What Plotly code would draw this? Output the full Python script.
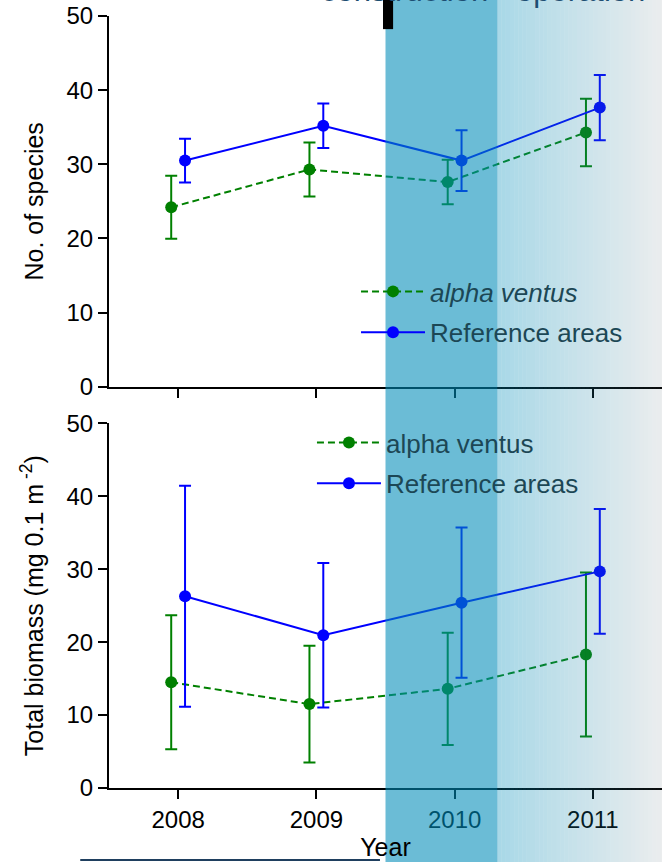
import plotly.graph_objects as go
from plotly.subplots import make_subplots

# ---------------- data ----------------
years = [2008, 2009, 2010, 2011]
year_labels = ["2008", "2009", "2010", "2011"]
y_ticks = [0, 10, 20, 30, 40, 50]

# top panel: number of species (mean and error)
species_av = [24.2, 29.3, 27.6, 34.3]
species_av_err = [4.25, 3.65, 3.0, 4.55]
species_ref = [30.5, 35.2, 30.5, 37.65]
species_ref_err = [2.95, 3.0, 4.1, 4.4]

# bottom panel: total biomass (mg 0.1 m-2)
biomass_av = [14.5, 11.5, 13.6, 18.3]
biomass_av_err = [9.2, 8.0, 7.7, 11.25]
biomass_ref = [26.3, 20.95, 25.4, 29.7]
biomass_ref_err = [15.15, 9.9, 10.3, 8.55]

# periods (x in years)
construction_start = 2009.5
operation_start = 2010.31
period_end = 2011.52
x_range = [2007.5, 2011.5]
dodge = 0.05

GREEN = "#008000"
BLUE = "#0000ff"
FONT = "Arial, Liberation Sans, sans-serif"

x_av = [y - dodge for y in years]
x_ref = [y + dodge for y in years]

fig = make_subplots(rows=2, cols=1, shared_xaxes=True, vertical_spacing=0.047)

def err(arr, color):
    return dict(type="data", array=arr, visible=True, color=color, thickness=2, width=6)

fig.add_trace(go.Scatter(x=x_av, y=species_av, error_y=err(species_av_err, GREEN),
                         mode="lines+markers", name="<i>alpha ventus</i>",
                         line=dict(color=GREEN, width=2, dash="7px,4px"),
                         marker=dict(color=GREEN, size=12), legend="legend",
                         legendgroup="a1"), row=1, col=1)
fig.add_trace(go.Scatter(x=x_ref, y=species_ref, error_y=err(species_ref_err, BLUE),
                         mode="lines+markers", name="Reference areas",
                         line=dict(color=BLUE, width=2),
                         marker=dict(color=BLUE, size=12), legend="legend",
                         legendgroup="b1"), row=1, col=1)
fig.add_trace(go.Scatter(x=x_av, y=biomass_av, error_y=err(biomass_av_err, GREEN),
                         mode="lines+markers", name="alpha ventus",
                         line=dict(color=GREEN, width=2, dash="7px,4px"),
                         marker=dict(color=GREEN, size=12), legend="legend2",
                         legendgroup="a2"), row=2, col=1)
fig.add_trace(go.Scatter(x=x_ref, y=biomass_ref, error_y=err(biomass_ref_err, BLUE),
                         mode="lines+markers", name="Reference areas",
                         line=dict(color=BLUE, width=2),
                         marker=dict(color=BLUE, size=12), legend="legend2",
                         legendgroup="b2"), row=2, col=1)

axis_common = dict(showline=True, linecolor="black", linewidth=2, ticks="outside",
                   ticklen=9, tickwidth=2, tickcolor="black", showgrid=False,
                   zeroline=False, automargin=False, ticklabeloverflow="allow",
                   tickfont=dict(family=FONT, size=24, color="black"))

fig.update_xaxes(range=x_range, tickvals=years, ticktext=year_labels, **axis_common)
fig.update_xaxes(showticklabels=False, row=1, col=1)
fig.update_xaxes(title=dict(text="Year", font=dict(family=FONT, size=25, color="black"),
                            standoff=7), row=2, col=1)
fig.update_yaxes(range=[0, 50], tickvals=y_ticks, **axis_common)
fig.update_yaxes(title=dict(text="No. of species", font=dict(family=FONT, size=25, color="black"),
                            standoff=16), row=1, col=1)
fig.update_yaxes(title=dict(text="Total biomass (mg 0.1 m<sup> -2</sup>)",
                            font=dict(family=FONT, size=25, color="black"),
                            standoff=16), row=2, col=1)

fig.layout.yaxis.domain = [0.5198, 1.0]
fig.layout.yaxis2.domain = [0.0, 0.4724]

# ---------------- period bands (overlay) ----------------
shapes = []
shapes.append(dict(type="rect", xref="x", yref="paper", x0=construction_start,
                   x1=operation_start, y0=-0.2, y1=1.2, layer="above",
                   line=dict(width=0), fillcolor="rgba(0,140,185,0.58)"))
N = 40
left_T = (168, 216, 231)
right_T = (236, 237, 238)
a_left, a_right = 0.34, 0.12
for i in range(N):
    t = (i + 0.5) / N
    a = a_left + (a_right - a_left) * t
    T = [left_T[k] + (right_T[k] - left_T[k]) * t for k in range(3)]
    C = [max(0, min(255, round((T[k] - 255 * (1 - a)) / a))) for k in range(3)]
    x0 = operation_start + (period_end - operation_start) * i / N
    x1 = operation_start + (period_end - operation_start) * (i + 1) / N
    shapes.append(dict(type="rect", xref="x", yref="paper", x0=x0, x1=x1,
                       y0=-0.2, y1=1.2, layer="above", line=dict(width=0),
                       fillcolor=f"rgba({C[0]},{C[1]},{C[2]},{a:.3f})"))
# black marker at the start of construction (partly cut at top)
shapes.append(dict(type="rect", xref="x", yref="paper", x0=construction_start - 0.018,
                   x1=construction_start + 0.055, y0=0.983, y1=1.05, layer="above",
                   line=dict(width=0), fillcolor="black"))
# thin line at the very bottom
shapes.append(dict(type="line", xref="paper", yref="paper", x0=-0.052, x1=0.49,
                   y0=-0.0933, y1=-0.0933, line=dict(color="#1f3f5f", width=2)))

annotations = [
    dict(text="construction", xref="paper", yref="paper", x=0.5335, y=1.0080,
         xanchor="center", yanchor="bottom", showarrow=False,
         font=dict(family=FONT, size=31, color="#1d4e72")),
    dict(text="operation", xref="paper", yref="paper", x=0.8535, y=1.0080,
         xanchor="center", yanchor="bottom", showarrow=False,
         font=dict(family=FONT, size=31, color="#1d4e72")),
]

legend_font = dict(family=FONT, size=26, color="#1c4755")
fig.update_layout(
    width=664, height=862,
    margin=dict(l=109, r=2, t=16, b=74, autoexpand=False),
    plot_bgcolor="white", paper_bgcolor="white",
    shapes=shapes, annotations=annotations,
    legend=dict(x=0.4467, y=0.6736, xanchor="left", yanchor="top", font=legend_font,
                bgcolor="rgba(0,0,0,0)", traceorder="grouped", tracegroupgap=4,
                itemwidth=64),
    legend2=dict(x=0.367, y=0.478, xanchor="left", yanchor="top", font=legend_font,
                 bgcolor="rgba(0,0,0,0)", traceorder="grouped", tracegroupgap=4,
                 itemwidth=64),
    showlegend=True,
)

fig.write_html("out.html", config={"displayModeBar": False},
               post_script="document.body.style.margin='0px';")
